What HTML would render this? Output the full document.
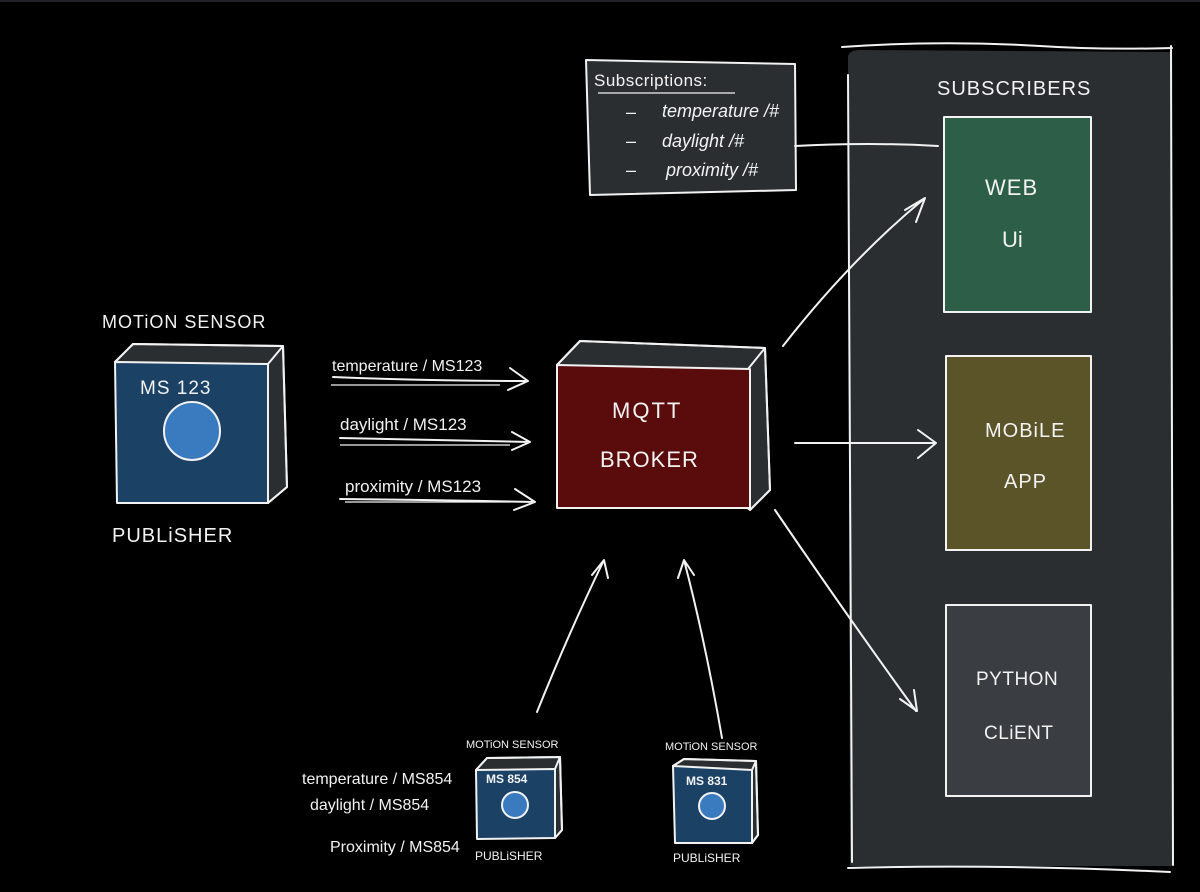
<!DOCTYPE html>
<html><head><meta charset="utf-8"><style>
html,body{margin:0;padding:0;background:#000;}
svg{display:block;}
text{font-family:"Liberation Sans",sans-serif;fill:#f2f2f2;}
</style></head><body>
<svg width="1200" height="892" viewBox="0 0 1200 892" xmlns="http://www.w3.org/2000/svg">
<rect x="0" y="0" width="1200" height="892" fill="#000"/>
<rect x="0" y="0" width="1200" height="2" fill="#22232a"/>
<g stroke="#f2f2f2" stroke-width="2" fill="none" stroke-linecap="round" stroke-linejoin="round">
<!-- subscribers panel -->
<path d="M848 56 Q850 50 860 50 L1172 52 L1172 866 L850 866 Z" fill="#2b2e30" stroke="none"/>
<path d="M842 47 Q940 40 1040 46 Q1100 50 1172 48 M1171 46 L1173 865 M848 868 Q1000 864 1170 872 M848 75 L852 862"/>
<!-- web ui -->
<rect x="944" y="117" width="147" height="195" fill="#2d5e47"/>
<!-- mobile -->
<rect x="946" y="356" width="145" height="194" fill="#5b5429"/>
<!-- python -->
<rect x="946" y="605" width="145" height="191" fill="#3a3d41"/>
<!-- subscriptions box -->
<path d="M586 60 L795 64 L796 190 L590 195 Z" fill="#2b2e30"/>
<!-- connector -->
<path d="M795 146 Q870 142 938 146"/>
<!-- broker -->
<path d="M557 365 L580 341 L765 348 L770 490 L750 510 Z" fill="#2b2e30"/>
<path d="M557 365 L750 369 L750 508 L557 508 Z" fill="#5a0c0c"/>
<path d="M557 365 L580 341 L765 348 L748 369 M765 348 L770 490 L750 510"/>
<!-- big sensor -->
<path d="M115 362 L133 344 L283 346 L287 487 L268 503 Z" fill="#2b2e30"/>
<path d="M115 362 L268 364 L268 503 L117 503 Z" fill="#1b4265"/>
<path d="M115 362 L133 344 L283 346 L268 364 M283 346 L287 487 L268 503"/>
<ellipse cx="192" cy="431" rx="28" ry="29" fill="#3a7bbf"/>
<!-- small sensor 1 -->
<path d="M476 770 L487 758 L560 757 L562 830 L555 838 Z" fill="#2b2e30"/>
<path d="M476 770 L555 769 L555 838 L477 839 Z" fill="#1b4265"/>
<path d="M476 770 L487 758 L560 757 L555 769 M560 757 L562 830 L555 838"/>
<ellipse cx="515" cy="805" rx="13" ry="13" fill="#3a7bbf"/>
<!-- small sensor 2 -->
<path d="M673 766 L684 759 L756 761 L758 835 L752 843 Z" fill="#2b2e30"/>
<path d="M673 766 L752 770 L752 843 L675 843 Z" fill="#1b4265"/>
<path d="M673 766 L684 759 L756 761 L752 770 M756 761 L758 835 L752 843"/>
<ellipse cx="712" cy="806" rx="13" ry="13" fill="#3a7bbf"/>
<!-- publish arrows -->
<path d="M333 377 Q430 381 528 381 M510 368 L528 381 L508 390"/>
<path d="M340 438 Q430 440 530 442 M512 432 L530 442 L512 450"/>
<path d="M340 499 Q440 500 535 502 M515 489 L535 502 L514 510"/>
<!-- broker to subscribers -->
<path d="M783 346 Q850 260 925 198 M905 210 L925 198 L916 222"/>
<path d="M795 443 L935 443 M918 430 L936 443 L918 458"/>
<path d="M775 510 Q850 620 916 711 M900 699 L917 711 L914 690"/>
<!-- up arrows -->
<path d="M537 712 Q570 630 604 560 M592 575 L604 560 L608 578"/>
<path d="M722 738 Q705 640 684 560 M678 578 L684 560 L694 575"/>
</g>
<g stroke="#f2f2f2" stroke-width="1.3" fill="none">
<path d="M598 93 L735 93"/>
<path d="M331 385 L500 385"/>
<path d="M340 445 L510 445"/>
<path d="M345 502 L510 502"/>
</g>
<!-- text -->
<text x="594" y="86" font-size="17" letter-spacing="0.5">Subscriptions:</text>
<text x="626" y="118" font-size="18">–</text>
<text x="662" y="117" font-size="18" font-style="italic">temperature /#</text>
<text x="626" y="147" font-size="18">–</text>
<text x="662" y="147" font-size="18" font-style="italic">daylight /#</text>
<text x="626" y="176" font-size="18">–</text>
<text x="666" y="176" font-size="18" font-style="italic">proximity /#</text>
<text x="937" y="95" font-size="20" letter-spacing="1">SUBSCRIBERS</text>
<text x="985" y="195" font-size="22" letter-spacing="1">WEB</text>
<text x="1002" y="247" font-size="22">Ui</text>
<text x="985" y="437" font-size="20" letter-spacing="1">MOBiLE</text>
<text x="1004" y="488" font-size="20" letter-spacing="1">APP</text>
<text x="976" y="685" font-size="19" letter-spacing="0.5">PYTHON</text>
<text x="984" y="739" font-size="19" letter-spacing="0.5">CLiENT</text>
<text x="612" y="418" font-size="22" letter-spacing="2">MQTT</text>
<text x="600" y="467" font-size="22" letter-spacing="1">BROKER</text>
<text x="102" y="328" font-size="18" letter-spacing="1">MOTiON SENSOR</text>
<text x="140" y="394" font-size="19" letter-spacing="1">MS 123</text>
<text x="112" y="542" font-size="20" letter-spacing="1">PUBLiSHER</text>
<text x="332" y="371" font-size="16">temperature / MS123</text>
<text x="340" y="430" font-size="17">daylight / MS123</text>
<text x="345" y="492" font-size="17">proximity / MS123</text>
<text x="466" y="748" font-size="11">MOTiON SENSOR</text>
<text x="486" y="783" font-size="12" font-weight="bold">MS 854</text>
<text x="475" y="860" font-size="12">PUBLiSHER</text>
<text x="665" y="750" font-size="11">MOTiON SENSOR</text>
<text x="686" y="785" font-size="12" font-weight="bold">MS 831</text>
<text x="673" y="862" font-size="12">PUBLiSHER</text>
<text x="302" y="784" font-size="16">temperature / MS854</text>
<text x="310" y="810" font-size="16">daylight / MS854</text>
<text x="330" y="852" font-size="16">Proximity / MS854</text>
</svg>
</body></html>
